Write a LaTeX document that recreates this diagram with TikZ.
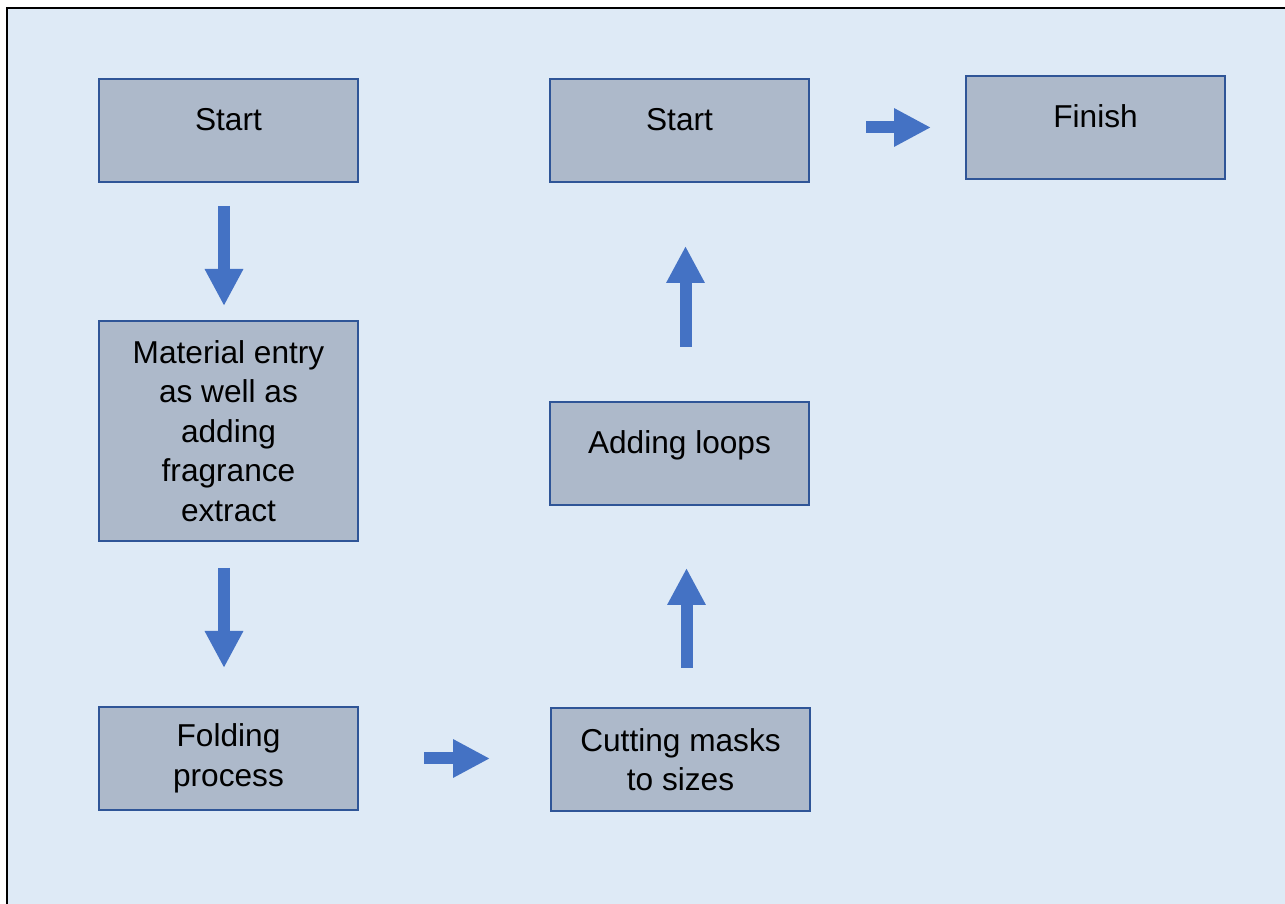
\documentclass[tikz,border=0pt]{standalone}
\usepackage{fontspec}
\setmainfont{Liberation Sans}
\usepackage{tikz}
\usepackage{xcolor}
\usetikzlibrary{arrows.meta,positioning}

\definecolor{bgblue}{HTML}{DEEAF6}
\definecolor{boxfill}{HTML}{ADB9CA}
\definecolor{boxline}{HTML}{2F5597}
\definecolor{flowblue}{HTML}{4472C4}

\begin{document}
\begin{tikzpicture}[
    node distance=2cm,
    stepbox/.style={rectangle, draw=boxline, fill=boxfill, line width=0.04cm, outer sep=0pt, minimum width=5.18cm, minimum height=2.06cm, align=center, font=\fontsize{18}{22.4}\selectfont},
    raised/.style={text depth=0.46cm},
    flow/.style={-{Triangle[width=0.72cm,length=0.74cm]}, line width=0.24cm, draw=flowblue}
]
\useasboundingbox (0,0) rectangle (25.7,18.08);

% Frame
\fill[bgblue, draw=black, line width=0.04cm] (0.14,-0.5) rectangle (26.3,17.92);

% Left column
\node[stepbox, raised] (start) at (4.57,15.47) {Start};
\node[stepbox, minimum height=4.4cm, below=2.78cm of start] (entry) {Material entry\\as well as\\adding\\fragrance\\extract};
\node[stepbox, below=3.32cm of entry] (fold) {Folding\\process};

% Middle column
\node[stepbox, right=3.86cm of fold, yshift=-0.02cm] (cut) {Cutting masks\\to sizes};
\node[stepbox, raised, above=4.06cm of cut, xshift=-0.02cm] (loops) {Adding loops};
\node[stepbox, raised, above=4.4cm of loops] (start2) {Start};

% Right column
\node[stepbox, raised, right=3.14cm of start2, yshift=0.06cm] (finish) {Finish};

% Arrows
\draw[flow, shorten <=0.48cm, shorten >=0.30cm] ([xshift=-0.09cm]start.south) -- ([xshift=-0.09cm]entry.north);
\draw[flow, shorten <=0.54cm, shorten >=0.78cm] ([xshift=-0.09cm]entry.south) -- ([xshift=-0.09cm]fold.north);
\draw[flow, shorten <=1.32cm, shorten >=1.22cm] (fold.east) -- (fold.east -| cut.west);
\draw[flow, shorten <=0.80cm, shorten >=1.26cm] ([xshift=0.12cm]cut.north) -- ([xshift=0.12cm]cut.north |- loops.south);
\draw[flow, shorten <=1.10cm, shorten >=1.28cm] ([xshift=0.12cm]loops.north) -- ([xshift=0.12cm]loops.north |- start2.south);
\draw[flow, shorten <=1.14cm, shorten >=0.70cm] (finish.west -| start2.east) -- (finish.west);

\end{tikzpicture}
\end{document}
